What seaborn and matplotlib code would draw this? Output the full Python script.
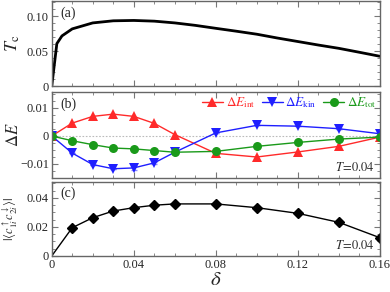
import matplotlib
matplotlib.use("Agg")
import matplotlib.pyplot as plt
from matplotlib.ticker import MultipleLocator, FixedLocator
import numpy as np
import pandas as pd
import seaborn as sns

# panel (a): critical temperature
tc_delta = [0, 0.0025, 0.005, 0.01, 0.02, 0.03, 0.04, 0.05, 0.06, 0.07,
            0.08, 0.09, 0.10, 0.11, 0.12, 0.13, 0.14, 0.15, 0.16]
tc_values = [0, 0.061, 0.072, 0.082, 0.0905, 0.0935, 0.094, 0.093, 0.0905, 0.087,
             0.0828, 0.0787, 0.0744, 0.069, 0.064, 0.059, 0.0543, 0.0487, 0.043]

# panel (b): energy differences at T = 0.04
de_delta = [0, 0.01, 0.02, 0.03, 0.04, 0.05, 0.06, 0.08, 0.10, 0.12, 0.14, 0.16]
de_int = [0, 0.0046, 0.0070, 0.0078, 0.0070, 0.0045, 0.0005,
          -0.0062, -0.0075, -0.0057, -0.0037, -0.0004]
de_kin = [0, -0.0061, -0.0102, -0.0117, -0.0114, -0.0096, -0.0058,
          0.0011, 0.0038, 0.0035, 0.0026, 0.0008]
de_tot = [0, -0.0017, -0.0031, -0.0043, -0.0046, -0.0052, -0.0058,
          -0.0055, -0.0037, -0.0023, -0.0011, -0.0004]
de_kin_err = [0, 0, 0, 0, 0.0007, 0.0004, 0, 0, 0, 0, 0, 0]

# panel (c): pairing amplitude at T = 0.04
pair_delta = [0, 0.01, 0.02, 0.03, 0.04, 0.05, 0.06, 0.08, 0.10, 0.12, 0.14, 0.16]
pair_values = [0, 0.0195, 0.0264, 0.031, 0.0333, 0.035, 0.0359,
               0.0359, 0.0333, 0.0294, 0.0232, 0.0126]

red, blue, green = "#ff2a2a", "#1f1fff", "#1a9a1a"

sns.set_theme(style="ticks")
plt.rcParams["font.family"] = ["Liberation Serif", "DejaVu Serif"]
plt.rcParams["mathtext.fontset"] = "stix"
plt.rcParams["axes.edgecolor"] = "#666666"
plt.rcParams["axes.linewidth"] = 1.0

fig = plt.figure(figsize=(3.9, 2.92), dpi=100)
left, width = 0.1326, 0.8415
ax_a = fig.add_axes([left, 0.7038, width, 0.2928])
ax_b = fig.add_axes([left, 0.3904, width, 0.2945])
ax_c = fig.add_axes([left, 0.1233, width, 0.2534])

# (a)
df_a = pd.DataFrame({"delta": tc_delta, "Tc": tc_values})
sns.lineplot(data=df_a, x="delta", y="Tc", ax=ax_a, color="black", lw=2.0)
ax_a.set_ylim(0, 0.1217)
ax_a.yaxis.set_major_locator(FixedLocator([0, 0.05, 0.10]))
ax_a.set_yticklabels(["0", "0.05", "0.10"])
ax_a.yaxis.set_minor_locator(MultipleLocator(0.01))
ax_a.set_ylabel(r"$T_{\rm c}$", fontsize=13)
ax_a.yaxis.set_label_coords(-0.09, 0.5)

# (b)
ax_b.axhline(0, color="#bbbbbb", lw=0.8, ls=(0, (1.5, 1.5)), zorder=0)
df_b = pd.DataFrame({"delta": de_delta, "int": de_int, "kin": de_kin, "tot": de_tot})
sns.lineplot(data=df_b, x="delta", y="int", ax=ax_b, color=red, lw=1.0,
             marker="^", markersize=6.5, markeredgewidth=0,
             label=r"$\Delta E_{\rm int}$")
ax_b.errorbar(de_delta, de_kin, yerr=de_kin_err, fmt="none", ecolor="#8888ff",
              elinewidth=0.8, capsize=2)
sns.lineplot(data=df_b, x="delta", y="kin", ax=ax_b, color=blue, lw=1.0,
             marker="v", markersize=6.5, markeredgewidth=0,
             label=r"$\Delta E_{\rm kin}$")
sns.lineplot(data=df_b, x="delta", y="tot", ax=ax_b, color=green, lw=1.0,
             marker="o", markersize=6.5, markeredgewidth=0,
             label=r"$\Delta E_{\rm tot}$")
ax_b.set_ylim(-0.0150, 0.0157)
ax_b.yaxis.set_major_locator(FixedLocator([-0.01, 0, 0.01]))
ax_b.set_yticklabels(["\u22120.01", "0", "0.01"])
ax_b.yaxis.set_minor_locator(MultipleLocator(0.0025))
ax_b.set_ylabel(r"$\Delta E$", fontsize=12)
ax_b.yaxis.set_label_coords(-0.09, 0.5)
leg = ax_b.legend(loc="upper right", ncol=3, frameon=False, fontsize=9.5,
                  handlelength=1.6, handletextpad=0.2, columnspacing=0.5,
                  borderaxespad=0.15, borderpad=0.1)
for txt, col in zip(leg.get_texts(), [red, blue, green]):
    txt.set_color(col)
ax_b.text(0.985, 0.05, r"$T\!=\!0.04$", transform=ax_b.transAxes,
          ha="right", va="bottom", fontsize=9)

# (c)
df_c = pd.DataFrame({"delta": pair_delta, "pair": pair_values})
sns.lineplot(data=df_c, x="delta", y="pair", ax=ax_c, color="black", lw=1.0)
ax_c.plot(pair_delta[1:], pair_values[1:], ls="none", marker="D",
          color="black", markersize=5.5)
ax_c.set_ylim(0, 0.051)
ax_c.yaxis.set_major_locator(FixedLocator([0, 0.02, 0.04]))
ax_c.set_yticklabels(["0", "0.02", "0.04"])
ax_c.yaxis.set_minor_locator(MultipleLocator(0.005))
ax_c.set_ylabel(r"$|\langle c^{\uparrow}_{1i}c^{\downarrow}_{2i}\rangle|$",
                fontsize=9)
ax_c.yaxis.set_label_coords(-0.098, 0.5)
ax_c.text(0.985, 0.05, r"$T\!=\!0.04$", transform=ax_c.transAxes,
          ha="right", va="bottom", fontsize=9)
ax_c.set_xlabel(r"$\delta$", fontsize=15, labelpad=0)

for ax, tag in zip([ax_a, ax_b, ax_c], ["(a)", "(b)", "(c)"]):
    ax.set_xlim(0, 0.16)
    ax.xaxis.set_major_locator(FixedLocator([0, 0.04, 0.08, 0.12, 0.16]))
    ax.xaxis.set_minor_locator(MultipleLocator(0.01))
    ax.tick_params(which="both", direction="in", top=True, right=True,
                   color="#777777", labelsize=9, pad=2)
    ax.tick_params(which="major", length=4, width=0.8)
    ax.tick_params(which="minor", length=2, width=0.6)
    ax.text(0.025, 0.94, tag, transform=ax.transAxes, ha="left", va="top",
            fontsize=10)
    if ax is not ax_c:
        ax.set_xlabel("")
        ax.tick_params(labelbottom=False)

ax_c.set_xticklabels(["0", "0.04", "0.08", "0.12", "0.16"])

fig.savefig("out.png", dpi=100)
